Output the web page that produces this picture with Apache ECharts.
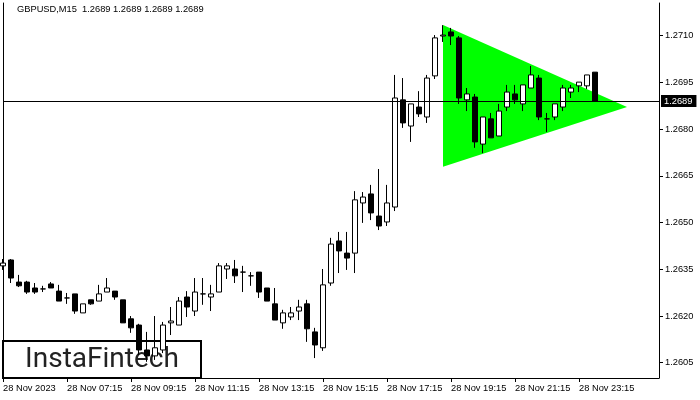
<!DOCTYPE html>
<html>
<head>
<meta charset="utf-8">
<script src="https://cdn.jsdelivr.net/npm/echarts@6/dist/echarts.min.js"></script>
<style>
html,body{margin:0;padding:0;background:#fff;}
#chart{width:700px;height:400px;}
</style>
</head>
<body>
<div id="chart"></div>
<script>
// ---- data ----
const titleText = 'GBPUSD,M15  1.2689 1.2689 1.2689 1.2689';
const categories = [
 '05:15','05:30','05:45','06:00','06:15','06:30','06:45','07:00',
 '07:15','07:30','07:45','08:00','08:15','08:30','08:45','09:00',
 '09:15','09:30','09:45','10:00','10:15','10:30','10:45','11:00',
 '11:15','11:30','11:45','12:00','12:15','12:30','12:45','13:00',
 '13:15','13:30','13:45','14:00','14:15','14:30','14:45','15:00',
 '15:15','15:30','15:45','16:00','16:15','16:30','16:45','17:00',
 '17:15','17:30','17:45','18:00','18:15','18:30','18:45','19:00',
 '19:15','19:30','19:45','20:00','20:15','20:30','20:45','21:00',
 '21:15','21:30','21:45','22:00','22:15','22:30','22:45','23:00',
 '23:15','23:30','23:45','00:00','00:15','00:30','00:45','01:00',
 '01:15','01:30','01:45'
];
const tickLabels = ['28 Nov 2023','28 Nov 07:15','28 Nov 09:15','28 Nov 11:15','28 Nov 13:15',
  '28 Nov 15:15','28 Nov 17:15','28 Nov 19:15','28 Nov 21:15','28 Nov 23:15'];
const priceTicks = [1.2605, 1.2620, 1.2635, 1.2650, 1.2665, 1.2680, 1.2695, 1.2710];
const currentPrice = 1.2689;

const opens = [
 1.26361,1.26380,1.26309,1.26309,1.26290,1.26287,1.26303,1.26280,1.26258,1.26271,
 1.26210,1.26252,1.26248,1.26277,1.26280,1.26252,1.26191,1.26171,1.26091,1.26072,
 1.26091,1.26178,1.26171,1.26261,1.26216,1.26271,1.26261,1.26277,1.26351,1.26351,
 1.26341,1.26329,1.26341,1.26290,1.26239,1.26178,1.26197,1.26216,1.26239,1.26149,
 1.26098,1.26306,1.26441,1.26402,1.26402,1.26563,1.26592,1.26521,1.26502,1.26550,
 1.26894,1.26810,1.26871,1.26839,1.26971,1.27099,1.27112,1.27093,1.26894,1.26903,
 1.26752,1.26833,1.26778,1.26871,1.26913,1.26881,1.26932,1.26964,1.26833,1.26839,
 1.26871,1.26919,1.26939,1.26939,1.26983
];
const closes = [
 1.26370,1.26322,1.26297,1.26277,1.26277,1.26287,1.26290,1.26248,1.26258,1.26216,
 1.26239,1.26239,1.26271,1.26290,1.26261,1.26178,1.26162,1.26091,1.26072,1.26098,
 1.26171,1.26184,1.26248,1.26229,1.26277,1.26271,1.26271,1.26361,1.26361,1.26329,
 1.26341,1.26329,1.26277,1.26248,1.26187,1.26210,1.26210,1.26229,1.26159,1.26107,
 1.26300,1.26431,1.26409,1.26386,1.26573,1.26582,1.26531,1.26489,1.26563,1.26900,
 1.26820,1.26881,1.26849,1.26964,1.27093,1.27102,1.27099,1.26900,1.26913,1.26759,
 1.26839,1.26772,1.26858,1.26919,1.26894,1.26942,1.26974,1.26839,1.26833,1.26881,
 1.26932,1.26932,1.26951,1.26974,1.26890
];
const lows = [
 1.26348,1.26306,1.26293,1.26271,1.26271,1.26277,1.26290,1.26248,1.26239,1.26207,
 1.26210,1.26236,1.26248,1.26277,1.26252,1.26178,1.26146,1.26075,1.26053,1.26059,
 1.26081,1.26139,1.26171,1.26197,1.26200,1.26236,1.26216,1.26277,1.26319,1.26306,
 1.26277,1.26297,1.26258,1.26248,1.26187,1.26159,1.26187,1.26187,1.26117,1.26065,
 1.26088,1.26297,1.26338,1.26348,1.26338,1.26499,1.26508,1.26476,1.26489,1.26537,
 1.26804,1.26759,1.26839,1.26820,1.26961,1.27080,1.27070,1.26881,1.26858,1.26740,
 1.26723,1.26772,1.26778,1.26858,1.26881,1.26858,1.26932,1.26829,1.26791,1.26829,
 1.26858,1.26900,1.26919,1.26929,1.26890
];
const highs = [
 1.26383,1.26383,1.26332,1.26313,1.26306,1.26297,1.26309,1.26300,1.26274,1.26271,
 1.26239,1.26252,1.26300,1.26322,1.26280,1.26252,1.26200,1.26175,1.26149,1.26200,
 1.26181,1.26229,1.26261,1.26280,1.26322,1.26322,1.26300,1.26370,1.26370,1.26380,
 1.26361,1.26341,1.26341,1.26290,1.26290,1.26220,1.26229,1.26252,1.26252,1.26162,
 1.26351,1.26451,1.26470,1.26470,1.26601,1.26598,1.26621,1.26672,1.26621,1.26974,
 1.26964,1.26881,1.26922,1.26974,1.27102,1.27134,1.27125,1.27099,1.26932,1.26913,
 1.26839,1.26852,1.26881,1.26942,1.26942,1.26942,1.27003,1.26974,1.26852,1.26881,
 1.26942,1.26942,1.26951,1.26974,1.26983
];
// triangle pattern vertices (category index, price)
const triangleIdx = [55, 55, 78];
const trianglePrice = [1.27134, 1.26679, 1.26871];

// ---- chart ----
const FONT = "'Liberation Sans', Arial, sans-serif";
const candleData = opens.map((o, i) => [o, closes[i], lows[i], highs[i]]);
const chart = echarts.init(document.getElementById('chart'), null, {renderer: 'canvas'});

chart.setOption({
  animation: false,
  backgroundColor: '#fff',
  title: {
    text: titleText, left: 17, top: 5, padding: 0,
    textStyle: {fontSize: 9.3, fontWeight: 'normal', color: '#000', fontFamily: FONT}
  },
  grid: {left: 2, right: 41, top: 3, bottom: 22, containLabel: false},
  xAxis: {
    type: 'category', data: categories, boundaryGap: false,
    axisLine: {show: true, onZero: false, lineStyle: {color: '#000', width: 1}},
    axisTick: {show: true, length: 4, lineStyle: {color: '#000'},
      interval: (i) => i % 8 === 0 && i / 8 < tickLabels.length},
    axisLabel: {
      show: true, align: 'left', margin: 6, color: '#000', fontSize: 9.3, fontFamily: FONT,
      interval: (i) => i % 8 === 0 && i / 8 < tickLabels.length,
      formatter: (v, i) => (i % 8 === 0 && i / 8 < tickLabels.length) ? tickLabels[i / 8] : ''
    },
    splitLine: {show: false}
  },
  yAxis: [{
    type: 'value', position: 'right', min: 1.26001, max: 1.27205, scale: true,
    axisLine: {show: true, lineStyle: {color: '#000', width: 1}},
    axisTick: {show: true, length: 4, lineStyle: {color: '#000'}, customValues: priceTicks},
    axisLabel: {show: true, margin: 6, color: '#000', fontSize: 9.3, fontFamily: FONT,
      customValues: priceTicks, formatter: (v) => v.toFixed(4)},
    splitLine: {show: false}
  }, {
    type: 'value', position: 'left', min: 1.26001, max: 1.27205, scale: true,
    axisLine: {show: true, lineStyle: {color: '#000', width: 1}},
    axisTick: {show: false}, axisLabel: {show: false}, splitLine: {show: false}
  }],
  series: [{
    type: 'custom', z: 1, silent: true,
    data: [[triangleIdx[0], trianglePrice[0]]],
    renderItem: (params, api) => {
      const pts = triangleIdx.map((x, i) => api.coord([x, trianglePrice[i]]));
      return {type: 'polygon', shape: {points: pts}, style: {fill: '#00ff00', stroke: null}};
    }
  }, {
    type: 'candlestick', z: 2, data: candleData, barWidth: 5,
    itemStyle: {color: '#fff', color0: '#000', borderColor: '#000', borderColor0: '#000', borderWidth: 1},
    markLine: {
      silent: true, animation: false, symbol: ['none', 'none'], precision: 4,
      lineStyle: {color: '#000', width: 1, type: 'solid'},
      label: {show: true, position: 'end', distance: 2, formatter: (p) => Number(p.value).toFixed(4),
        backgroundColor: '#000', color: '#fff', padding: [2, 4, 1, 3], fontSize: 9.3, fontFamily: FONT},
      data: [{yAxis: currentPrice}]
    }
  }],
  graphic: [{
    type: 'group', z: 100, silent: true,
    children: [{
      type: 'rect', shape: {x: 3, y: 341, width: 198, height: 37},
      style: {fill: '#fff', stroke: '#000', lineWidth: 2}
    }, {
      type: 'text', x: 102, y: 360,
      style: {text: 'InstaFintech', fill: '#222', fontSize: 28, fontWeight: 'normal',
        fontFamily: "Roboto, 'Noto Sans', sans-serif", align: 'center', verticalAlign: 'middle'}
    }]
  }]
});
</script>
</body>
</html>
